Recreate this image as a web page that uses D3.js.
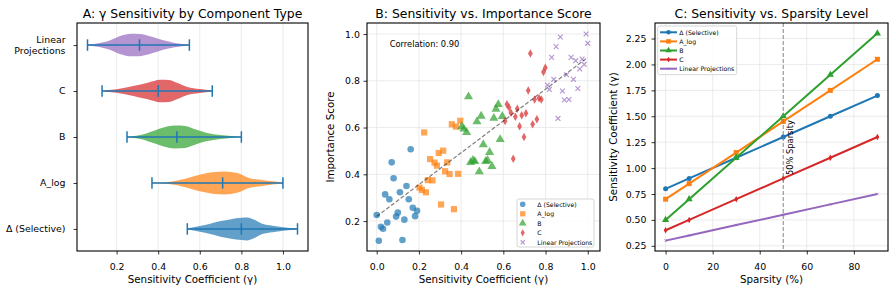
<!DOCTYPE html>
<html>
<head>
<meta charset="utf-8">
<script src="https://cdn.jsdelivr.net/npm/d3@7"></script>
<style>
  body { margin: 0; background: #fff; }
  svg { display: block; font-family: "DejaVu Sans", sans-serif; }
</style>
</head>
<body>
<svg id="fig" width="896" height="293"></svg>
<script>
/* Three panels: violin of gamma per component, scatter gamma vs importance,
   and gamma against sparsity level. */

// ---- panel A: violins (bottom to top) ----
const violinCats = ["Δ (Selective)", "A_log", "B", "C", "Linear Projections"];
const violinMin  = [0.54, 0.37, 0.25, 0.13, 0.06];
const violinMean = [0.80, 0.71, 0.49, 0.40, 0.31];
const violinMax  = [1.07, 1.00, 0.80, 0.66, 0.55];
// density outline: gamma positions and relative half-width
const violinGamma = [
  [0.54, 0.60, 0.65, 0.70, 0.75, 0.80, 0.83, 0.86, 0.90, 0.95, 1.00, 1.07],
  [0.37, 0.45, 0.52, 0.60, 0.66, 0.72, 0.78, 0.84, 0.90, 0.95, 1.00],
  [0.25, 0.32, 0.38, 0.43, 0.48, 0.53, 0.57, 0.63, 0.70, 0.75, 0.80],
  [0.13, 0.20, 0.28, 0.35, 0.41, 0.45, 0.49, 0.54, 0.60, 0.66],
  [0.06, 0.10, 0.17, 0.22, 0.27, 0.31, 0.37, 0.42, 0.48, 0.55]
];
const violinWidth = [
  [0.03, 0.25, 0.45, 0.68, 0.85, 0.97, 1.00, 0.82, 0.45, 0.28, 0.15, 0.05],
  [0.03, 0.09, 0.32, 0.72, 0.93, 1.00, 0.86, 0.42, 0.26, 0.14, 0.04],
  [0.03, 0.20, 0.55, 0.84, 0.99, 0.95, 0.72, 0.38, 0.17, 0.08, 0.03],
  [0.03, 0.15, 0.43, 0.72, 0.98, 0.96, 0.72, 0.35, 0.17, 0.05],
  [0.04, 0.12, 0.42, 0.80, 0.98, 0.97, 0.72, 0.43, 0.18, 0.04]
];
const violinTicks = [0.2, 0.4, 0.6, 0.8, 1.0];

// ---- panel B: scatter ----
const groups = ["Δ (Selective)", "A_log", "B", "C", "Linear Projections"];
const scatterX = [
  [0.000,0.010,0.020,0.030,0.040,0.050,0.060,0.071,0.080,0.092,0.100,0.110,0.122,0.131,0.141,0.152,0.161,0.171,0.182,0.191],
  [0.203,0.214,0.225,0.233,0.242,0.253,0.264,0.274,0.285,0.294,0.305,0.315,0.324,0.334,0.345,0.356,0.366,0.375,0.386,0.396],
  [0.403,0.413,0.426,0.435,0.445,0.456,0.465,0.475,0.486,0.495,0.505,0.516,0.525,0.535,0.546,0.555,0.565,0.576,0.585,0.595],
  [0.608,0.617,0.627,0.636,0.647,0.657,0.666,0.677,0.687,0.698,0.707,0.718,0.728,0.739,0.748,0.759,0.769,0.780,0.790,0.799],
  [0.809,0.818,0.829,0.839,0.850,0.859,0.870,0.880,0.889,0.900,0.911,0.921,0.932,0.943,0.953,0.962,0.973,0.983,0.992,1.000]
];
const scatterY = [
  [0.226,0.116,0.176,0.167,0.314,0.194,0.293,0.451,0.383,0.219,0.236,0.323,0.119,0.206,0.350,0.293,0.507,0.257,0.221,0.244],
  [0.343,0.333,0.579,0.323,0.375,0.465,0.374,0.450,0.437,0.491,0.271,0.501,0.413,0.451,0.401,0.614,0.251,0.604,0.402,0.629],
  [0.604,0.594,0.579,0.732,0.451,0.460,0.455,0.625,0.411,0.649,0.527,0.455,0.460,0.494,0.434,0.640,0.679,0.699,0.549,0.648],
  [0.628,0.700,0.686,0.663,0.467,0.646,0.680,0.605,0.652,0.559,0.661,0.758,0.917,0.614,0.720,0.635,0.725,0.720,0.837,0.856],
  [0.782,0.763,0.900,0.806,0.946,0.639,0.987,0.756,0.718,0.826,0.720,0.900,0.806,0.886,0.767,0.850,0.893,0.870,1.000,0.960]
];
const trendX = [0, 1];
const trendY = [0.22, 0.90];
const correlation = 0.90;
const scatterTicks = [0.0, 0.2, 0.4, 0.6, 0.8, 1.0];
const scatterYTicks = [0.2, 0.4, 0.6, 0.8, 1.0];

// ---- panel C: sparsity lines ----
const sparsity = [0, 10, 30, 50, 70, 90];
const sensSeries = [
  [0.80, 0.90, 1.10, 1.30, 1.50, 1.70],
  [0.70, 0.85, 1.15, 1.45, 1.75, 2.05],
  [0.50, 0.70, 1.10, 1.50, 1.90, 2.30],
  [0.40, 0.50, 0.70, 0.90, 1.10, 1.30],
  [0.30, 0.35, 0.45, 0.55, 0.65, 0.75]
];
const sparsityTicks = [0, 20, 40, 60, 80];
const sensTicks = [0.25, 0.50, 0.75, 1.00, 1.25, 1.50, 1.75, 2.00, 2.25];
const markLine = 50;

const COLORS = ["#1f77b4", "#ff7f0e", "#2ca02c", "#d62728", "#9467bd"];
const SHAPES = ["circle", "square", "triangle", "diamond", "x"];
const GRID = "#e6e6e6";
const TICK_FS = 9.4, LABEL_FS = 10.3, TITLE_FS = 12.4;

const svg = d3.select("#fig");

// marker path around (0,0), r = rough half size
function markerPath(kind, r) {
  if (kind === "circle") return d3.symbol(d3.symbolCircle, Math.PI * r * r)();
  if (kind === "square") return d3.symbol(d3.symbolSquare, 4 * r * r)();
  if (kind === "triangle") return d3.symbol(d3.symbolTriangle, 2.6 * r * r)();
  if (kind === "diamond") return `M0,${-r * 1.25}L${r * 0.7},0L0,${r * 1.25}L${-r * 0.7},0Z`;
  return `M${-r},${-r}L${r},${r}M${-r},${r}L${r},${-r}`;
}
function drawMarker(g, kind, cx, cy, r, color, alpha, sw) {
  const p = g.append("path").attr("d", markerPath(kind, r))
    .attr("transform", `translate(${cx},${cy})`);
  if (kind === "x") p.attr("fill", "none").attr("stroke", color).attr("stroke-width", sw || 1.1).attr("opacity", alpha);
  else p.attr("fill", color).attr("fill-opacity", alpha);
  return p;
}

// common axes bits
function styleAxis(g) {
  g.select(".domain").remove();
  g.selectAll(".tick line").attr("stroke", "#000").attr("stroke-width", 0.8);
  g.selectAll(".tick text").attr("font-size", TICK_FS).attr("fill", "#000")
    .attr("font-family", "DejaVu Sans, sans-serif");
}
function frame(box) {
  svg.append("rect").attr("x", box.l).attr("y", box.t)
    .attr("width", box.r - box.l).attr("height", box.b - box.t)
    .attr("fill", "none").attr("stroke", "#000").attr("stroke-width", 1.1);
}
function title(box, text) {
  svg.append("text").attr("x", (box.l + box.r) / 2).attr("y", 18.3)
    .attr("text-anchor", "middle").attr("font-size", TITLE_FS).text(text);
}
function xLabel(box, text) {
  svg.append("text").attr("x", (box.l + box.r) / 2).attr("y", 283)
    .attr("text-anchor", "middle").attr("font-size", LABEL_FS).text(text);
}
function yLabel(box, x, text) {
  svg.append("text").attr("transform", `translate(${x},${(box.t + box.b) / 2}) rotate(-90)`)
    .attr("text-anchor", "middle").attr("font-size", LABEL_FS).text(text);
}
function xAxis(box, x, ticks, fmt) {
  const g = svg.append("g").attr("transform", `translate(0,${box.b})`)
    .call(d3.axisBottom(x).tickValues(ticks).tickFormat(fmt).tickSize(3.5).tickPadding(8.4));
  styleAxis(g);
}
function yAxis(box, y, ticks, fmt, pad) {
  const g = svg.append("g").attr("transform", `translate(${box.l},0)`)
    .call(d3.axisLeft(y).tickValues(ticks).tickFormat(fmt).tickSize(3.5).tickPadding(pad));
  styleAxis(g);
  return g;
}
function legendBox(x, y, w, h) {
  svg.append("rect").attr("x", x).attr("y", y).attr("width", w).attr("height", h)
    .attr("rx", 2).attr("fill", "#fff").attr("fill-opacity", 0.8)
    .attr("stroke", "#cccccc").attr("stroke-width", 0.8);
}

// ================= A: violins =================
const boxA = { l: 77, r: 308, t: 23, b: 251 };
const xA = d3.scaleLinear().domain([0.0095, 1.1205]).range([boxA.l, boxA.r]);
const yA = d3.scaleLinear().domain([0.52, 5.48]).range([boxA.b, boxA.t]);

violinTicks.forEach(t => svg.append("line").attr("x1", xA(t)).attr("x2", xA(t))
  .attr("y1", boxA.t).attr("y2", boxA.b).attr("stroke", GRID).attr("stroke-width", 0.8));

violinCats.forEach((c, i) => {
  const pos = i + 1;
  const pts = violinGamma[i].map((g, k) => [g, violinWidth[i][k]]);
  const area = d3.area().curve(d3.curveMonotoneX)
    .x(d => xA(d[0]))
    .y0(d => yA(pos - d[1] * 0.25))
    .y1(d => yA(pos + d[1] * 0.25));
  svg.append("path").attr("d", area(pts)).attr("fill", COLORS[i]).attr("fill-opacity", 0.7);

  const g = svg.append("g").attr("stroke", "#1f77b4").attr("stroke-width", 1.5).attr("fill", "none");
  g.append("line").attr("x1", xA(violinMin[i])).attr("x2", xA(violinMax[i]))
    .attr("y1", yA(pos)).attr("y2", yA(pos));
  [violinMin[i], violinMean[i], violinMax[i]].forEach(v =>
    g.append("line").attr("x1", xA(v)).attr("x2", xA(v))
      .attr("y1", yA(pos - 0.125)).attr("y2", yA(pos + 0.125)));
});

xAxis(boxA, xA, violinTicks, d3.format(".1f"));
{
  const g = yAxis(boxA, yA, [1, 2, 3, 4, 5], d => "", 8);
  g.selectAll(".tick text").remove();
  violinCats.forEach((c, i) => {
    const lines = c === "Linear Projections" ? ["Linear", "Projections"] : [c];
    const t = svg.append("text").attr("text-anchor", "end").attr("font-size", TICK_FS);
    lines.forEach((ln, k) => t.append("tspan").attr("x", 65.5)
      .attr("y", yA(i + 1) + 3.4 + (k - (lines.length - 1) / 2) * 10.2).text(ln));
  });
}
frame(boxA);
title(boxA, "A: γ Sensitivity by Component Type");
xLabel(boxA, "Sensitivity Coefficient (γ)");

// ================= B: scatter =================
const boxB = { l: 367, r: 600, t: 23, b: 251 };
const xB = d3.scaleLinear().domain([-0.046, 1.058]).range([boxB.l, boxB.r]);
const yB = d3.scaleLinear().domain([0.072, 1.047]).range([boxB.b, boxB.t]);

scatterTicks.forEach(t => svg.append("line").attr("x1", xB(t)).attr("x2", xB(t))
  .attr("y1", boxB.t).attr("y2", boxB.b).attr("stroke", GRID).attr("stroke-width", 0.8));
scatterYTicks.forEach(t => svg.append("line").attr("y1", yB(t)).attr("y2", yB(t))
  .attr("x1", boxB.l).attr("x2", boxB.r).attr("stroke", GRID).attr("stroke-width", 0.8));

const sizesB = [3.3, 3.1, 3.7, 3.4, 2.4];
groups.forEach((gname, i) => {
  const g = svg.append("g");
  scatterX[i].forEach((vx, k) => drawMarker(g, SHAPES[i], xB(vx), yB(scatterY[i][k]), sizesB[i], COLORS[i], 0.7));
});

svg.append("line").attr("x1", xB(trendX[0])).attr("y1", yB(trendY[0]))
  .attr("x2", xB(trendX[1])).attr("y2", yB(trendY[1]))
  .attr("stroke", "#000").attr("stroke-opacity", 0.5).attr("stroke-width", 1.2)
  .attr("stroke-dasharray", "4,2");

svg.append("text").attr("x", 389.7).attr("y", 47).attr("font-size", 8.3)
  .text(`Correlation: ${correlation.toFixed(2)}`);

legendBox(517, 199, 77, 48);
groups.forEach((gname, i) => {
  const ly = 204.3 + i * 9.5;
  drawMarker(svg.append("g"), SHAPES[i], 522.7, ly, sizesB[i] * 0.85, COLORS[i], 0.7);
  svg.append("text").attr("x", 537.3).attr("y", ly + 2.2).attr("font-size", 6.2).text(gname);
});

xAxis(boxB, xB, scatterTicks, d3.format(".1f"));
yAxis(boxB, yB, scatterYTicks, d3.format(".1f"), 3.5);
frame(boxB);
title(boxB, "B: Sensitivity vs. Importance Score");
xLabel(boxB, "Sensitivity Coefficient (γ)");
yLabel(boxB, 334, "Importance Score");

// ================= C: sparsity =================
const boxC = { l: 655, r: 888, t: 23, b: 251 };
const xC = d3.scaleLinear().domain([-4.5, 94.5]).range([boxC.l, boxC.r]);
const yC = d3.scaleLinear().domain([0.2, 2.4]).range([boxC.b, boxC.t]);

sparsityTicks.forEach(t => svg.append("line").attr("x1", xC(t)).attr("x2", xC(t))
  .attr("y1", boxC.t).attr("y2", boxC.b).attr("stroke", GRID).attr("stroke-width", 0.8));
sensTicks.forEach(t => svg.append("line").attr("y1", yC(t)).attr("y2", yC(t))
  .attr("x1", boxC.l).attr("x2", boxC.r).attr("stroke", GRID).attr("stroke-width", 0.8));

const line = d3.line().x(d => xC(d[0])).y(d => yC(d[1]));
const sizesC = [2.5, 2.5, 2.9, 2.6, 1.3];
sensSeries.forEach((vals, i) => {
  const pts = sparsity.map((s, k) => [s, vals[k]]);
  svg.append("path").attr("d", line(pts)).attr("fill", "none")
    .attr("stroke", COLORS[i]).attr("stroke-width", 2);
  const g = svg.append("g");
  pts.forEach(p => drawMarker(g, SHAPES[i], xC(p[0]), yC(p[1]), sizesC[i], COLORS[i], 1, 0.6));
});

svg.append("line").attr("x1", xC(markLine)).attr("x2", xC(markLine))
  .attr("y1", boxC.t).attr("y2", boxC.b)
  .attr("stroke", "#808080").attr("stroke-opacity", 0.8).attr("stroke-width", 1.2)
  .attr("stroke-dasharray", "4,2");
svg.append("text").attr("transform", `translate(${792.5},${175}) rotate(-90)`)
  .attr("font-size", 8.3).text("50% Sparsity");

legendBox(657.7, 26, 79, 48.7);
groups.forEach((gname, i) => {
  const ly = 32.3 + i * 9.1;
  svg.append("line").attr("x1", 660).attr("x2", 677).attr("y1", ly).attr("y2", ly)
    .attr("stroke", COLORS[i]).attr("stroke-width", 2);
  drawMarker(svg.append("g"), SHAPES[i], 668.5, ly, sizesC[i] * 0.9, COLORS[i], 1, 0.6);
  svg.append("text").attr("x", 679.3).attr("y", ly + 2.2).attr("font-size", 6.2).text(gname);
});

xAxis(boxC, xC, sparsityTicks, d3.format("d"));
yAxis(boxC, yC, sensTicks, d3.format(".2f"), 5);
frame(boxC);
title(boxC, "C: Sensitivity vs. Sparsity Level");
xLabel(boxC, "Sparsity (%)");
yLabel(boxC, 617, "Sensitivity Coefficient (γ)");
</script>
</body>
</html>
